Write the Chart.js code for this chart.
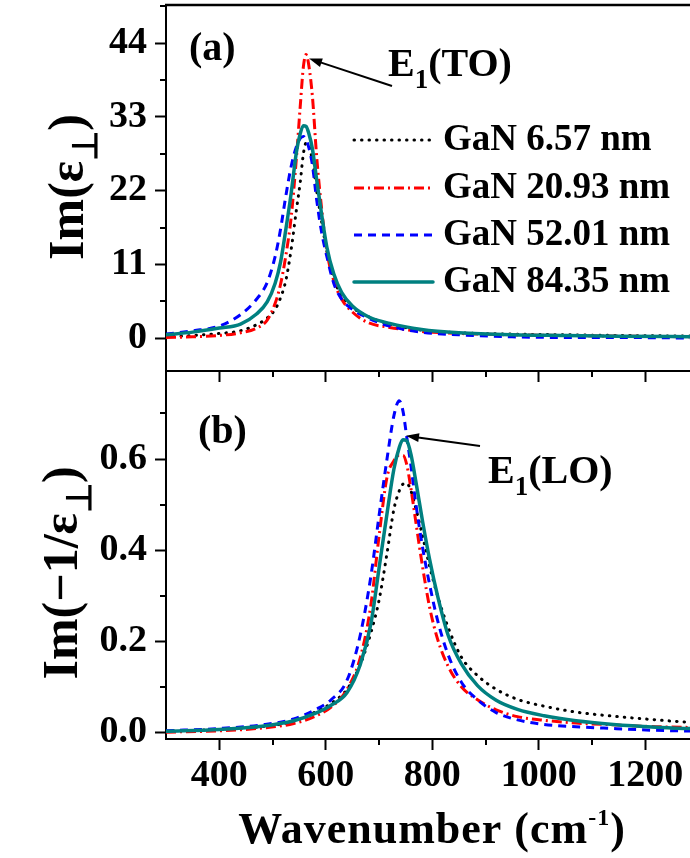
<!DOCTYPE html>
<html>
<head>
<meta charset="utf-8">
<script src="https://cdn.jsdelivr.net/npm/chart.js@4.4.0/dist/chart.umd.min.js"></script>
<style>
  html, body { margin: 0; padding: 0; background: #fff; }
  #wrap { position: relative; width: 690px; height: 858px; overflow: hidden; }
  .panel { position: absolute; left: 0; width: 690px; }
  #boxA { top: 0; height: 392px; z-index: 2; }
  #boxB { top: 360px; height: 498px; z-index: 1; }
</style>
</head>
<body>
<div id="wrap">
  <div class="panel" id="boxA"><canvas id="chartA" width="690" height="392"></canvas></div>
  <div class="panel" id="boxB"><canvas id="chartB" width="690" height="498"></canvas></div>
</div>
<script>
// ---- data ----
const seriesNames = ['GaN 6.57 nm', 'GaN 20.93 nm', 'GaN 52.01 nm', 'GaN 84.35 nm'];

// (a) Im(eps_perp)
const wnA = [300, 350, 400, 440, 470, 490, 505, 515, 525, 535, 545, 552, 558, 563, 568, 575, 583, 592, 602, 615, 630, 650, 680, 720, 780, 850, 950, 1050, 1150, 1300];
const epsA657  = [0.2, 0.4, 0.7, 1.1, 2.0, 3.0, 4.3, 6.0, 8.6, 13.2, 19.2, 23.2, 27.5, 29.1, 28.7, 26.5, 22.0, 17.5, 13.0, 8.9, 6.3, 4.6, 3.2, 2.1, 1.2, 0.8, 0.6, 0.5, 0.4, 0.3];
const epsA2093 = [0.1, 0.2, 0.4, 0.8, 1.5, 2.7, 5.2, 8.0, 12.3, 18.0, 27.0, 34.5, 40.5, 42.3, 40.8, 36.0, 27.0, 19.5, 13.0, 8.6, 5.8, 3.9, 2.3, 1.6, 1.0, 0.7, 0.5, 0.4, 0.3, 0.2];
const epsA5201 = [0.6, 1.1, 1.8, 3.5, 5.8, 8.3, 12.2, 16.2, 21.2, 25.6, 28.6, 29.8, 30.1, 29.6, 28.5, 25.8, 20.6, 15.9, 12.2, 8.2, 5.8, 4.3, 3.0, 1.8, 0.9, 0.5, 0.2, 0.1, 0.1, 0.0];
const epsA8435 = [0.5, 0.9, 1.5, 2.1, 3.6, 5.4, 8.2, 11.3, 16.2, 21.6, 27.8, 30.5, 31.7, 31.6, 30.6, 28.2, 23.6, 18.6, 13.6, 9.6, 6.8, 4.8, 3.2, 2.2, 1.3, 0.8, 0.5, 0.4, 0.3, 0.2];

// (b) Im(-1/eps_perp)
const wnB = [300, 400, 480, 540, 580, 610, 640, 665, 685, 700, 715, 728, 738, 745, 752, 760, 770, 782, 795, 810, 830, 855, 885, 920, 960, 1010, 1070, 1140, 1220, 1300];
const lossB657  = [0.003, 0.007, 0.013, 0.025, 0.045, 0.064, 0.095, 0.150, 0.220, 0.290, 0.393, 0.490, 0.530, 0.545, 0.547, 0.530, 0.488, 0.430, 0.365, 0.300, 0.230, 0.165, 0.125, 0.095, 0.073, 0.058, 0.045, 0.036, 0.028, 0.021];
const lossB2093 = [0.001, 0.004, 0.010, 0.020, 0.036, 0.056, 0.095, 0.165, 0.282, 0.430, 0.560, 0.596, 0.608, 0.608, 0.588, 0.535, 0.455, 0.362, 0.275, 0.205, 0.145, 0.100, 0.072, 0.050, 0.035, 0.027, 0.021, 0.017, 0.013, 0.011];
const lossB5201 = [0.004, 0.009, 0.017, 0.030, 0.050, 0.072, 0.115, 0.215, 0.345, 0.475, 0.600, 0.695, 0.728, 0.705, 0.649, 0.585, 0.495, 0.405, 0.325, 0.246, 0.170, 0.110, 0.072, 0.044, 0.028, 0.018, 0.013, 0.009, 0.005, 0.003];
const lossB8435 = [0.003, 0.007, 0.014, 0.026, 0.042, 0.060, 0.088, 0.150, 0.240, 0.360, 0.480, 0.578, 0.625, 0.642, 0.640, 0.610, 0.545, 0.462, 0.380, 0.300, 0.213, 0.150, 0.103, 0.071, 0.051, 0.037, 0.026, 0.018, 0.012, 0.008];

// axes
const xMajor = [400, 600, 800, 1000, 1200];
const xMinor = [500, 700, 900, 1100];
const yMajorA = [0, 11, 22, 33, 44];
const yMinorA = [5.5, 16.5, 27.5, 38.5, 49.5];
const yMajorB = [0, 0.2, 0.4, 0.6];
const yMinorB = [0.1, 0.3, 0.5, 0.7];

// ---- styling ----
const SERIF = '"Liberation Serif", "Times New Roman", serif';
const STYLES = [
  { borderColor: '#000000', borderWidth: 3, borderDash: [0.5, 7], borderCapStyle: 'round', order: 3 },
  { borderColor: '#ff0000', borderWidth: 3, borderDash: [10, 4, 2, 4], borderCapStyle: 'butt', order: 2 },
  { borderColor: '#0000ff', borderWidth: 3, borderDash: [8, 6], borderCapStyle: 'butt', order: 1 },
  { borderColor: '#008080', borderWidth: 3.5, borderDash: [], borderCapStyle: 'round', order: 0 }
];

function makeSets(xs, arrays) {
  return arrays.map((ys, i) => Object.assign({
    label: seriesNames[i],
    data: xs.map((x, j) => ({ x, y: ys[j] })),
    pointRadius: 0,
    fill: false,
    cubicInterpolationMode: 'monotone'
  }, STYLES[i]));
}

// text with sub/superscripts: parts = [[text, scale, dyEm], ...]
function richWidth(ctx, parts, size) {
  let w = 0;
  parts.forEach(([t, s]) => { ctx.font = `bold ${Math.round(size * s)}px ${SERIF}`; w += ctx.measureText(t).width; });
  return w;
}
function richText(ctx, x, y, parts, size) {
  let cx = x;
  parts.forEach(([t, s, dy]) => {
    ctx.font = `bold ${Math.round(size * s)}px ${SERIF}`;
    ctx.fillText(t, cx, y + (dy || 0) * size);
    cx += ctx.measureText(t).width;
  });
}
function arrow(ctx, x0, y0, x1, y1) {
  const a = Math.atan2(y1 - y0, x1 - x0), L = 13, W = 4.5;
  ctx.save();
  ctx.strokeStyle = '#000'; ctx.fillStyle = '#000'; ctx.lineWidth = 2;
  ctx.beginPath(); ctx.moveTo(x0, y0);
  ctx.lineTo(x1 - L * 0.8 * Math.cos(a), y1 - L * 0.8 * Math.sin(a)); ctx.stroke();
  ctx.beginPath(); ctx.moveTo(x1, y1);
  ctx.lineTo(x1 - L * Math.cos(a) + W * Math.sin(a), y1 - L * Math.sin(a) - W * Math.cos(a));
  ctx.lineTo(x1 - L * Math.cos(a) - W * Math.sin(a), y1 - L * Math.sin(a) + W * Math.cos(a));
  ctx.closePath(); ctx.fill();
  ctx.restore();
}
function peakOf(ds) {
  return ds.data.reduce((m, p) => (p.y > m.y ? p : m), ds.data[0]);
}

// minor ticks
function minorTicks(yMinor) {
  return {
    id: 'minorTicks',
    afterDraw(chart) {
      const { ctx, chartArea: ca, scales: { x, y } } = chart;
      ctx.save();
      ctx.strokeStyle = '#000'; ctx.lineWidth = 2;
      ctx.beginPath();
      xMinor.forEach(v => { const px = Math.round(x.getPixelForValue(v)); ctx.moveTo(px, ca.bottom); ctx.lineTo(px, ca.bottom + 6); });
      yMinor.forEach(v => {
        const py = Math.round(y.getPixelForValue(v));
        if (py >= ca.top - 1 && py <= ca.bottom) { ctx.moveTo(ca.left, py); ctx.lineTo(ca.left - 6, py); }
      });
      ctx.stroke();
      ctx.restore();
    }
  };
}

function yTitle(ctx, parts, cy, baseX, size) {
  ctx.save();
  ctx.translate(baseX, cy);
  ctx.rotate(-Math.PI / 2);
  ctx.fillStyle = '#000';
  ctx.textBaseline = 'alphabetic';
  const w = richWidth(ctx, parts, size);
  richText(ctx, -w / 2, 0, parts, size);
  ctx.restore();
}

function baseOptions(xAxisHeight, padTop, yMajor, yMin, yMax, fmt, showXLabels) {
  return {
    responsive: false,
    animation: false,
    events: [],
    layout: { padding: { top: padTop, right: 0, left: 0, bottom: 0 } },
    plugins: { legend: { display: false }, tooltip: { enabled: false } },
    scales: {
      x: {
        type: 'linear', min: 300, max: 1284,
        afterBuildTicks: s => { s.ticks = xMajor.map(v => ({ value: v })); },
        afterFit: s => { s.height = xAxisHeight; s.paddingLeft = 0; s.paddingRight = 0; },
        border: { display: true, color: '#000', width: 2 },
        grid: { drawOnChartArea: false, drawTicks: true, tickLength: 11, tickWidth: 2, tickColor: '#000' },
        ticks: { display: showXLabels, color: '#000', padding: 3, maxRotation: 0, callback: v => String(v),
                 font: { family: SERIF, size: 38, weight: 'bold' } }
      },
      y: {
        min: yMin, max: yMax,
        afterBuildTicks: s => { s.ticks = yMajor.map(v => ({ value: v })); },
        afterFit: s => { s.width = 166; s.paddingTop = 0; s.paddingBottom = 0; },
        border: { display: true, color: '#000', width: 2 },
        grid: { drawOnChartArea: false, drawTicks: true, tickLength: 11, tickWidth: 2, tickColor: '#000' },
        ticks: { color: '#000', padding: 8, callback: fmt, font: { family: SERIF, size: 38, weight: 'bold' } }
      }
    }
  };
}

// ---- panel (a) ----
const setsA = makeSets(wnA, [epsA657, epsA2093, epsA5201, epsA8435]);
const legendRows = [140, 188, 235, 282];

new Chart(document.getElementById('chartA'), {
  type: 'line',
  data: { datasets: setsA },
  options: baseOptions(21, 5, yMajorA, -4.9, 49.7, v => String(v), false),
  plugins: [minorTicks(yMinorA), {
    id: 'decorA',
    afterDraw(chart) {
      const { ctx, chartArea: ca, scales: { x, y } } = chart;
      ctx.save();
      // top frame
      ctx.strokeStyle = '#000'; ctx.lineWidth = 2.5;
      ctx.beginPath(); ctx.moveTo(ca.left - 1, ca.top); ctx.lineTo(ca.right, ca.top); ctx.stroke();

      ctx.fillStyle = '#000';
      ctx.textBaseline = 'alphabetic';
      richText(ctx, 189, 60, [['(a)', 1]], 40);
      richText(ctx, 388, 76, [['E', 1], ['1', 0.68, 0.3], ['(TO)', 1]], 40);

      const pk = peakOf(setsA[1]);
      arrow(ctx, 392, 86, x.getPixelForValue(pk.x) + 3, y.getPixelForValue(pk.y) + 4);

      // legend
      setsA.forEach((ds, i) => {
        const ly = legendRows[i];
        ctx.save();
        ctx.strokeStyle = ds.borderColor; ctx.lineWidth = ds.borderWidth;
        ctx.setLineDash(ds.borderDash); ctx.lineCap = ds.borderCapStyle;
        ctx.beginPath(); ctx.moveTo(354, ly); ctx.lineTo(433, ly); ctx.stroke();
        ctx.restore();
        richText(ctx, 443, ly + 10, [[ds.label, 1]], 37);
      });

      yTitle(ctx, [['Im(ε', 1], ['\u22A5', 0.7, 0.28], [')', 1]], 187, 83, 50);
      ctx.restore();
    }
  }]
});

// ---- panel (b) ----
const setsB = makeSets(wnB, [lossB657, lossB2093, lossB5201, lossB8435]);

new Chart(document.getElementById('chartB'), {
  type: 'line',
  data: { datasets: setsB },
  options: baseOptions(119, 11, yMajorB, -0.014, 0.793, v => v.toFixed(1), true),
  plugins: [minorTicks(yMinorB), {
    id: 'decorB',
    afterDraw(chart) {
      const { ctx, scales: { x, y } } = chart;
      ctx.save();
      ctx.fillStyle = '#000';
      ctx.textBaseline = 'alphabetic';
      richText(ctx, 198, 83, [['(b)', 1]], 40);
      richText(ctx, 488, 123, [['E', 1], ['1', 0.68, 0.3], ['(LO)', 1]], 40);

      const pk = peakOf(setsB[3]);
      arrow(ctx, 480, 86, x.getPixelForValue(pk.x) + 3, y.getPixelForValue(pk.y) - 4);

      yTitle(ctx, [['Im(\u22121/ε', 1], ['\u22A5', 0.7, 0.28], [')', 1]], 213, 77, 50);

      // x title
      ctx.letterSpacing = '1px';
      const parts = [['Wavenumber (cm', 1], ['-1', 0.55, -0.42], [')', 1]];
      const w = richWidth(ctx, parts, 44);
      richText(ctx, 432 - w / 2, 483, parts, 44);
      ctx.restore();
    }
  }]
});
</script>
</body>
</html>
